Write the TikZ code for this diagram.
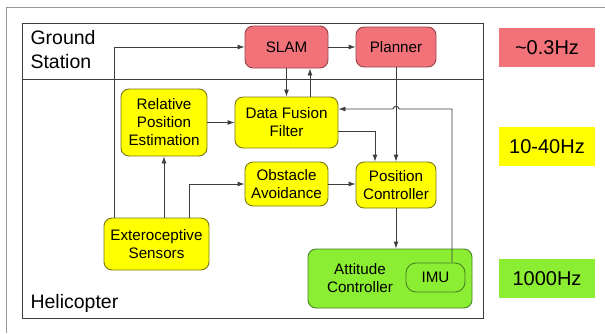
\documentclass[tikz,border=0pt]{standalone}
\usepackage{fontspec}
\setmainfont{Liberation Sans}
\usetikzlibrary{arrows.meta,calc}
\definecolor{slamred}{RGB}{242,114,122}
\definecolor{redline}{RGB}{150,70,75}
\definecolor{yel}{RGB}{255,255,0}
\definecolor{yelline}{RGB}{120,120,20}
\definecolor{grn}{RGB}{140,238,50}
\definecolor{grnline}{RGB}{70,130,40}
\definecolor{ln}{RGB}{60,60,60}
\tikzset{
  blk/.style={draw, rounded corners=8pt, line width=0.9pt, align=center, font=\fontsize{15.2}{18}\selectfont, inner sep=0pt},
  redbox/.style={blk, fill=slamred, draw=redline},
  yelbox/.style={blk, fill=yel, draw=yelline},
  grnbox/.style={blk, fill=grn, draw=grnline},
  conn/.style={draw=ln, line width=0.9pt, -{Latex[length=7pt,width=5pt]}},
  legend/.style={inner sep=0pt, font=\fontsize{20}{24}\selectfont},
}
\begin{document}
\begin{tikzpicture}[x=1pt,y=-1pt]
\useasboundingbox (0,0) rectangle (605,333);
\fill[white] (0,0) rectangle (605,333);
% outer frame
\draw[gray!80, line width=0.8pt] (605,7) -- (6,7) -- (6,333);
% main frame
\draw[ln, line width=0.9pt] (22,23) rectangle (483,318);
\draw[ln, line width=0.9pt] (22,79) -- (483,79);
\node[anchor=west, align=left, font=\fontsize{19.5}{24}\selectfont] (gs) at (27,50) {Ground\\Station};
\node[anchor=west, font=\fontsize{19.5}{24}\selectfont] (heli) at (27,303) {Helicopter};

% nodes
\node[redbox, minimum width=83, minimum height=42] (slam) at (286.5,47) {SLAM};
\node[redbox, minimum width=80, minimum height=40] (planner) at (396,47) {Planner};
\node[yelbox, minimum width=86, minimum height=67] (rpe) at (164,122.5) {Relative\\Position\\Estimation};
\node[yelbox, minimum width=103, minimum height=51] (dff) at (286.5,122.5) {Data Fusion\\Filter};
\node[yelbox, minimum width=83, minimum height=44] (obst) at (286.5,184) {Obstacle\\Avoidance};
\node[yelbox, minimum width=80, minimum height=46] (pos) at (396,185) {Position\\Controller};
\node[yelbox, minimum width=105, minimum height=52] (ext) at (156.5,244) {Exteroceptive\\Sensors};
\node[grnbox, minimum width=164, minimum height=59] (att) at (390,278.5) {};
\node[align=center, font=\fontsize{15.2}{18}\selectfont, inner sep=0pt] (attlbl) at (360,278) {Attitude\\Controller};
\node[grnbox, rounded corners=10pt, minimum width=59, minimum height=29] (imu) at (435.5,277.5) {IMU};

% legend
\node[legend, fill=slamred, minimum width=96, minimum height=39] (l1) at (547,47.5) {\textasciitilde 0.3Hz};
\node[legend, fill=yel, minimum width=96, minimum height=39] (l2) at (547,146.5) {10-40Hz};
\node[legend, fill=grn, minimum width=96, minimum height=39] (l3) at (547,278.5) {1000Hz};

% connectors
\coordinate (hop) at (396,109);
\draw[conn] ($(ext.north)+(-42.5,0)$) |- (slam.west);
\draw[conn] (rpe.south |- ext.north) -- (rpe.south);
\draw[conn] ($(ext.north)+(32.5,0)$) |- (obst.west);
\draw[conn] (rpe.east) -- (dff.west);
\draw[conn] (slam.south) -- (dff.north);
\draw[conn] ($(dff.north)+(23.5,0)$) -- ($(slam.south)+(23.5,0)$);
\draw[conn] (slam.east) -- (planner.west);
\draw[conn] (planner.south) -- (pos.north);
\draw[conn] ($(dff.east)+(0,8.5)$) -| ($(pos.north)+(-21,0)$);
\draw[conn] (obst.east) -- (obst.east -| pos.west);
\draw[conn] (pos.south) -- (pos.south |- att.north);
\draw[conn] ($(imu.north)+(16.5,0)$) |- ($(hop)+(3,0)$) .. controls +(0,-3.5) and +(0,-3.5) .. ($(hop)+(-3,0)$) -- ($(dff.east)+(0,-13.5)$);
\end{tikzpicture}
\end{document}
